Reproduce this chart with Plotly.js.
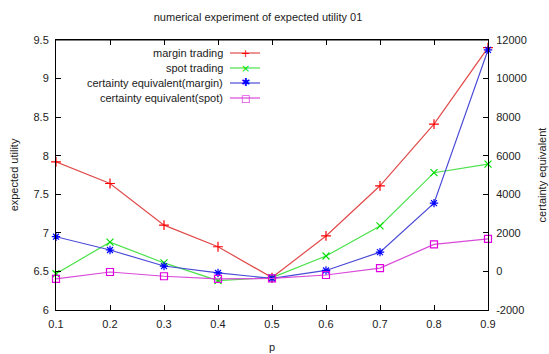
<!DOCTYPE html>
<html><head><meta charset="utf-8">
<script src="https://cdn.plot.ly/plotly-3.0.1.min.js"></script>
<style>body{margin:0;background:#fff}#c{width:549px;height:354px}</style>
</head><body><div id="c"></div>
<script>
const p = [0.1, 0.2, 0.3, 0.4, 0.5, 0.6, 0.7, 0.8, 0.9];
const marginTrading = [7.92, 7.64, 7.10, 6.82, 6.42, 6.96, 7.61, 8.41, 9.40];
const spotTrading = [6.47, 6.88, 6.61, 6.38, 6.42, 6.70, 7.09, 7.78, 7.89];
const ceMargin = [1800, 1110, 280, -80, -360, 50, 1000, 3540, 11490];
const ceSpot = [-390, -30, -250, -390, -360, -185, 175, 1400, 1690];
const seriesNames = ['margin trading', 'spot trading', 'certainty equivalent(margin)', 'certainty equivalent(spot)'];
const xTicks = [0.1, 0.2, 0.3, 0.4, 0.5, 0.6, 0.7, 0.8, 0.9];
const y1Ticks = [6, 6.5, 7, 7.5, 8, 8.5, 9, 9.5];
const y2Ticks = [-2000, 0, 2000, 4000, 6000, 8000, 10000, 12000];

const lineCols = ['#e24a4a', '#4ae24a', '#4a4ad8', '#d84ad8'];
const markCols = ['#ff0000', '#00e000', '#0000ff', '#e000e0'];
const symbols = ['cross-thin-open', 'x-thin-open', 'asterisk-open', 'square-open'];
const legendGlyphs = ['+', '×', '✱', '□'];
const font = 'Liberation Sans, Arial, sans-serif';

function tr(y, i, axis) {
  return {x: p, y: y, yaxis: axis, type: 'scatter', mode: 'lines+markers', name: seriesNames[i],
    line: {color: lineCols[i], width: 1.2},
    marker: {symbol: symbols[i], size: 7, color: markCols[i], line: {color: markCols[i], width: 1.2}},
    showlegend: false, cliponaxis: false};
}
const data = [tr(marginTrading, 0, 'y'), tr(spotTrading, 1, 'y'), tr(ceMargin, 2, 'y2'), tr(ceSpot, 3, 'y2')];

const annotations = [];
const shapes = [];
const legTop = 53, legStep = 15;
seriesNames.forEach((n, i) => {
  const yy = 1 - (legTop + i * legStep - 40) / 270;
  annotations.push({xref: 'paper', yref: 'paper', x: (225 - 56) / 432, y: yy, xanchor: 'right', yanchor: 'middle',
    text: n, showarrow: false, font: {family: font, size: 11, color: '#222'}});
  shapes.push({type: 'line', xref: 'paper', yref: 'paper', x0: (230 - 56) / 432, x1: (260 - 56) / 432, y0: yy, y1: yy,
    line: {color: lineCols[i], width: 1.2}});
  annotations.push({xref: 'paper', yref: 'paper', x: (245 - 56) / 432, y: yy, xanchor: 'center', yanchor: 'middle',
    text: legendGlyphs[i], showarrow: false, font: {family: 'DejaVu Sans', size: i === 3 ? 10 : 11, color: markCols[i]}});
});

const layout = {
  width: 549, height: 354,
  margin: {l: 56, r: 61, t: 40, b: 44},
  paper_bgcolor: '#fff', plot_bgcolor: '#fff',
  font: {family: font, size: 11, color: '#222'},
  title: {text: 'numerical experiment of expected utility 01', x: 258 / 549, xanchor: 'center', y: 1 - 17 / 354, yanchor: 'middle', font: {family: font, size: 11, color: '#222'}},
  xaxis: {range: [0.1, 0.9], tickvals: xTicks, ticktext: xTicks.map(v => v.toFixed(1)), ticks: 'inside', ticklen: 5, tickcolor: '#000',
    ticklabelstandoff: 4,
    showline: true, linecolor: '#000', linewidth: 1, mirror: 'ticks', showgrid: false, zeroline: false,
    title: {text: 'p', standoff: 14, font: {family: font, size: 11}}},
  yaxis: {range: [6, 9.5], tickvals: y1Ticks, ticktext: y1Ticks.map(v => String(v)), ticks: 'inside', ticklen: 5, tickcolor: '#000',
    ticklabelstandoff: 4,
    showline: true, linecolor: '#000', linewidth: 1, showgrid: false, zeroline: false,
    title: {text: 'expected utility', standoff: 12, font: {family: font, size: 11}}},
  yaxis2: {range: [-2000, 12000], tickvals: y2Ticks, ticktext: y2Ticks.map(v => String(v)), overlaying: 'y', side: 'right', ticks: 'inside', ticklen: 5, tickcolor: '#000',
    ticklabelstandoff: 5,
    showline: true, linecolor: '#000', linewidth: 1, showgrid: false, zeroline: false,
    title: {text: 'certainty equivalent', standoff: 12, font: {family: font, size: 11}}},
  shapes: shapes.concat([{type: 'line', xref: 'paper', yref: 'paper', x0: 0, x1: 1, y0: 1, y1: 1, line: {color: '#000', width: 1}}]),
  annotations: annotations
};
Plotly.newPlot('c', data, layout, {displayModeBar: false, staticPlot: true});
</script></body></html>
